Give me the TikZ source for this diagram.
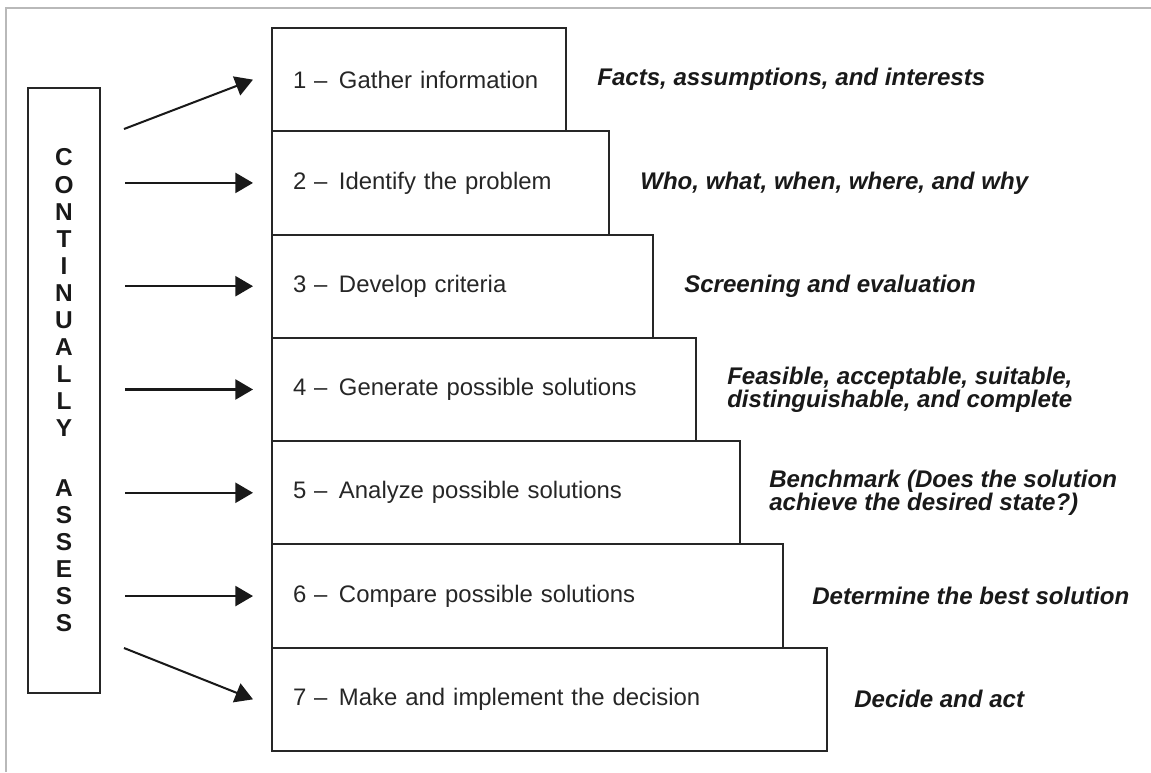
\documentclass[tikz,border=0pt]{standalone}
\usepackage{fontspec}
\setmainfont{Liberation Sans}
\usetikzlibrary{arrows.meta,positioning}

\begin{document}
\begin{tikzpicture}[
    x=0.02cm, y=-0.02cm,
    stepbox/.style={draw=black!85, line width=1.2pt, outer sep=0pt, inner xsep=0.42cm,
        minimum height=2.066cm, text width=#1, align=left,
        font=\fontsize{13.6}{16}\selectfont, text=black!85},
    desc/.style={anchor=west, align=left, inner sep=0pt,
        font=\fontsize{13.7}{13.1}\selectfont\bfseries\itshape, text=black!90},
    sidebox/.style={draw=black!85, line width=1.2pt, minimum width=1.44cm, minimum height=12.1cm,
        align=center, font=\fontsize{13.9}{15.4}\selectfont\bfseries, text=black!90},
    flow/.style={-{Triangle[length=10pt, width=11.4pt]}, line width=1.15pt, black!90}
]

\useasboundingbox (0,0) rectangle (1151,772);

% frame
\draw[gray!55, line width=1pt] (6,772) -- (6,8) -- (1151,8);

% === Left column ===
\node[sidebox] (assess) at (64,390.5)
    {C\\O\\N\\T\\I\\N\\U\\A\\L\\L\\Y\\[18.8pt]A\\S\\S\\E\\S\\S};

% === Staircase of steps ===
\node[stepbox=5.04cm, anchor=north west] (step1) at (272,28) {1 –\ \hspace{2pt}Gather information};
\node[stepbox=5.90cm, below right=0pt and 0pt of step1.south west] (step2) {2 –\ \hspace{2pt}Identify the problem};
\node[stepbox=6.78cm, below right=0pt and 0pt of step2.south west] (step3) {3 –\ \hspace{2pt}Develop criteria};
\node[stepbox=7.64cm, below right=0pt and 0pt of step3.south west] (step4) {4 –\ \hspace{2pt}Generate possible solutions};
\node[stepbox=8.52cm, below right=0pt and 0pt of step4.south west] (step5) {5 –\ \hspace{2pt}Analyze possible solutions};
\node[stepbox=9.38cm, below right=0pt and 0pt of step5.south west] (step6) {6 –\ \hspace{2pt}Compare possible solutions};
\node[stepbox=10.26cm, below right=0pt and 0pt of step6.south west] (step7) {7 –\ \hspace{2pt}Make and implement the decision};

% === Notes beside each step ===
\node[desc, right=0.62cm of step1] (note1) {Facts, assumptions, and interests};
\node[desc, right=0.62cm of step2] (note2) {Who, what, when, where, and why};
\node[desc, right=0.62cm of step3] (note3) {Screening and evaluation};
\node[desc, right=0.62cm of step4] (note4) {Feasible, acceptable, suitable,\\distinguishable, and complete};
\node[desc, right=0.58cm of step5] (note5) {Benchmark (Does the solution\\achieve the desired state?)};
\node[desc, right=0.58cm of step6] (note6) {Determine the best solution};
\node[desc, right=0.54cm of step7] (note7) {Decide and act};

% === Arrows into the steps ===
\coordinate (tail1) at (124,129);
\coordinate (tail7) at (124,648);
\draw[flow] (tail1) -- ([xshift=-0.38cm]step1.west);
\draw[flow, shorten <=0.48cm, shorten >=0.38cm] (assess.east |- step2.west) -- (step2.west);
\draw[flow, shorten <=0.48cm, shorten >=0.38cm] (assess.east |- step3.west) -- (step3.west);
\draw[flow, shorten <=0.48cm, shorten >=0.38cm] (assess.east |- step4.west) -- (step4.west);
\draw[flow, shorten <=0.48cm, shorten >=0.38cm] (assess.east |- step5.west) -- (step5.west);
\draw[flow, shorten <=0.48cm, shorten >=0.38cm] (assess.east |- step6.west) -- (step6.west);
\draw[flow] (tail7) -- ([xshift=-0.38cm]step7.west);

\end{tikzpicture}
\end{document}
